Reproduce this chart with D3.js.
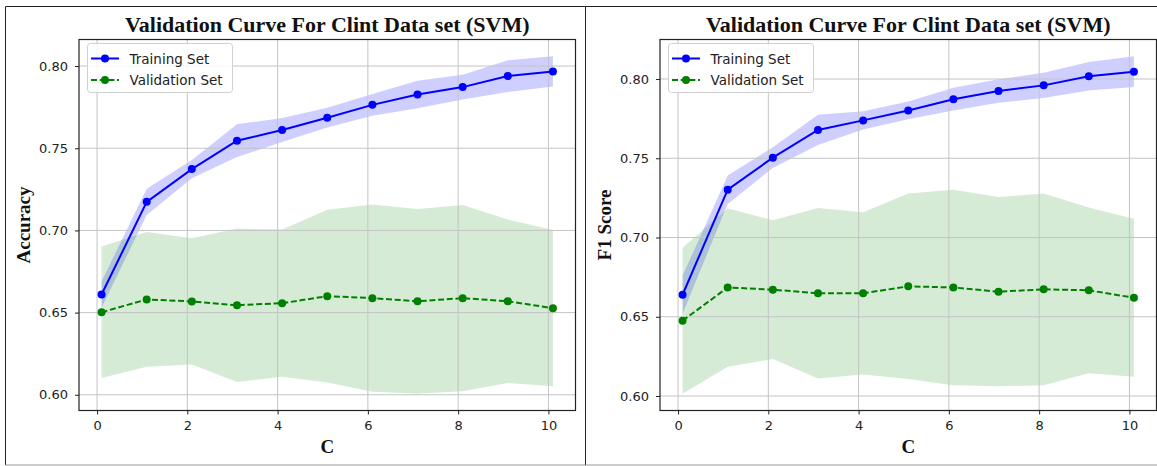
<!DOCTYPE html>
<meta charset="utf-8">

<!-- Load d3.js -->
<script src="https://d3js.org/d3.v7.min.js"></script>

<style>
  body { margin: 0; background: #fff; }
</style>

<div id="my_dataviz"></div>

<script>

// C values used on the x axis
var cValues = [0.1, 1.1, 2.1, 3.1, 4.1, 5.1, 6.1, 7.1, 8.1, 9.1, 10.1];
var xTicks = [0, 2, 4, 6, 8, 10];

// Accuracy panel
var accTrainMean = [0.661, 0.7174, 0.7373, 0.7546, 0.7611, 0.7686, 0.7764, 0.7827, 0.7872, 0.7939, 0.7967];
var accTrainStd  = [0.008, 0.008, 0.0055, 0.010, 0.0073, 0.006, 0.0066, 0.0083, 0.0075, 0.0097, 0.0092];
var accValMean   = [0.6502, 0.658, 0.6568, 0.6545, 0.6557, 0.660, 0.6588, 0.6569, 0.6588, 0.6569, 0.6527];
var accValStd    = [0.040, 0.041, 0.0384, 0.0467, 0.0448, 0.0526, 0.057, 0.0562, 0.0567, 0.0497, 0.0475];
var accTicks = [0.60, 0.65, 0.70, 0.75, 0.80];

// F1 panel
var f1TrainMean = [0.6639, 0.7302, 0.7504, 0.7679, 0.7739, 0.7802, 0.7873, 0.7924, 0.796, 0.8017, 0.8046];
var f1TrainStd  = [0.012, 0.009, 0.0065, 0.0095, 0.0058, 0.0056, 0.0072, 0.0074, 0.0079, 0.009, 0.0097];
var f1ValMean   = [0.6475, 0.6685, 0.6671, 0.6648, 0.6648, 0.6692, 0.6685, 0.6658, 0.6673, 0.6667, 0.662];
var f1ValStd    = [0.046, 0.050, 0.0438, 0.0538, 0.0512, 0.0585, 0.0617, 0.0597, 0.0605, 0.0523, 0.0498];
var f1Ticks = [0.60, 0.65, 0.70, 0.75, 0.80];

var titleText = "Validation Curve For Clint Data set (SVM)";
var legendLabels = ["Training Set", "Validation Set"];

var W = 1157, H = 466;
var svg = d3.select("#my_dataviz")
  .append("svg")
    .attr("width", W)
    .attr("height", H);

// outer frames of the two pictures
[5.5, 585.5].forEach(function (fx) {
  svg.append("path")
    .attr("d", "M" + fx + ",465 V6.5 H" + (fx + 580))
    .style("fill", "none").style("stroke", "#222");
  svg.append("line").attr("x1", fx).attr("x2", fx + 580).attr("y1", 465).attr("y2", 465)
    .style("stroke", "#999");
});

var plot = {left: 79, right: 575.5, top: 39.5, bottom: 410.5};

function drawPanel(offsetX, trainMean, trainStd, valMean, valStd, yTicks, yLabel) {
  var g = svg.append("g").attr("transform", "translate(" + offsetX + ",0)");

  var x = d3.scaleLinear()
    .domain([-0.4, 10.6])
    .range([plot.left, plot.right]);

  // y domain like matplotlib: data extent plus 5% margins
  var lo = d3.min(valMean.map(function (d, i) { return d - valStd[i]; })
    .concat(trainMean.map(function (d, i) { return d - trainStd[i]; })));
  var hi = d3.max(valMean.map(function (d, i) { return d + valStd[i]; })
    .concat(trainMean.map(function (d, i) { return d + trainStd[i]; })));
  var pad = (hi - lo) * 0.05;
  var y = d3.scaleLinear()
    .domain([lo - pad, hi + pad])
    .range([plot.bottom, plot.top]);

  var area = function (mean, std) {
    return d3.area()
      .x(function (d, i) { return x(cValues[i]); })
      .y0(function (d, i) { return y(mean[i] - std[i]); })
      .y1(function (d, i) { return y(mean[i] + std[i]); })(mean);
  };
  var line = d3.line()
    .x(function (d, i) { return x(cValues[i]); })
    .y(function (d) { return y(d); });

  // bands
  g.append("path").attr("d", area(trainMean, trainStd))
    .style("fill", "blue").style("fill-opacity", 0.19);
  g.append("path").attr("d", area(valMean, valStd))
    .style("fill", "green").style("fill-opacity", 0.16);

  // grid
  g.append("g").selectAll("line").data(xTicks).enter().append("line")
    .attr("x1", function (d) { return x(d); }).attr("x2", function (d) { return x(d); })
    .attr("y1", plot.top).attr("y2", plot.bottom)
    .style("stroke", "#c4c4c4").style("stroke-width", 1);
  g.append("g").selectAll("line").data(yTicks).enter().append("line")
    .attr("y1", function (d) { return y(d); }).attr("y2", function (d) { return y(d); })
    .attr("x1", plot.left).attr("x2", plot.right)
    .style("stroke", "#c4c4c4").style("stroke-width", 1);

  // training line + markers
  g.append("path").datum(trainMean).attr("d", line)
    .style("fill", "none").style("stroke", "blue").style("stroke-width", 2);
  g.append("g").selectAll("circle").data(trainMean).enter().append("circle")
    .attr("cx", function (d, i) { return x(cValues[i]); })
    .attr("cy", function (d) { return y(d); })
    .attr("r", 4).style("fill", "blue");

  // validation line + markers
  g.append("path").datum(valMean).attr("d", line)
    .style("fill", "none").style("stroke", "green").style("stroke-width", 2)
    .style("stroke-dasharray", "6,2.7");
  g.append("g").selectAll("circle").data(valMean).enter().append("circle")
    .attr("cx", function (d, i) { return x(cValues[i]); })
    .attr("cy", function (d) { return y(d); })
    .attr("r", 4).style("fill", "green");

  // axes
  var xAxis = g.append("g")
    .attr("transform", "translate(0," + plot.bottom + ")")
    .call(d3.axisBottom(x).tickValues(xTicks).tickFormat(d3.format("d")).tickSizeOuter(0).tickSize(4).tickPadding(6));
  var yAxis = g.append("g")
    .attr("transform", "translate(" + plot.left + ",0)")
    .call(d3.axisLeft(y).tickValues(yTicks).tickFormat(d3.format(".2f")).tickSizeOuter(0).tickSize(4).tickPadding(7));
  [xAxis, yAxis].forEach(function (a) {
    a.select(".domain").remove();
    a.selectAll(".tick line").style("stroke", "#222");
    a.selectAll(".tick text").style("font-family", "DejaVu Sans").style("font-size", "13px").style("fill", "#222");
  });

  // spines
  g.append("rect")
    .attr("x", plot.left).attr("y", plot.top)
    .attr("width", plot.right - plot.left).attr("height", plot.bottom - plot.top)
    .style("fill", "none").style("stroke", "#222").style("stroke-width", 1.2);

  // title and labels
  var cx = (plot.left + plot.right) / 2;
  g.append("text").attr("x", cx).attr("y", 31.5).text(titleText)
    .attr("text-anchor", "middle").style("font-family", "Liberation Serif").style("font-weight", "bold").style("font-size", "22px").style("fill", "#111");
  g.append("text").attr("x", cx).attr("y", 452.5).text("C")
    .attr("text-anchor", "middle").style("font-family", "Liberation Serif").style("font-weight", "bold").style("font-size", "19px").style("fill", "#111");
  g.append("text")
    .attr("transform", "translate(30," + ((plot.top + plot.bottom) / 2) + ") rotate(-90)")
    .text(yLabel)
    .attr("text-anchor", "middle").style("font-family", "Liberation Serif").style("font-weight", "bold").style("font-size", "19px").style("fill", "#111");

  // legend
  var leg = g.append("g");
  leg.append("rect").attr("x", 87.5).attr("y", 43.5).attr("width", 145).attr("height", 49).attr("rx", 3)
    .style("fill", "white").style("fill-opacity", 0.85).style("stroke", "#d0d0d0");
  var rows = [{c: "blue", dash: null, y: 58.5}, {c: "green", dash: "6,2.7", y: 80}];
  rows.forEach(function (r, i) {
    leg.append("line").attr("x1", 91).attr("x2", 119).attr("y1", r.y).attr("y2", r.y)
      .style("stroke", r.c).style("stroke-width", 2).style("stroke-dasharray", r.dash);
    leg.append("circle").attr("cx", 105).attr("cy", r.y).attr("r", 4).style("fill", r.c);
    leg.append("text").attr("x", 129.5).attr("y", r.y).text(legendLabels[i])
      .attr("dominant-baseline", "central")
      .style("font-family", "DejaVu Sans").style("font-size", "13.5px").style("fill", "#222");
  });
}

drawPanel(0, accTrainMean, accTrainStd, accValMean, accValStd, accTicks, "Accuracy");
drawPanel(581, f1TrainMean, f1TrainStd, f1ValMean, f1ValStd, f1Ticks, "F1 Score");

</script>
